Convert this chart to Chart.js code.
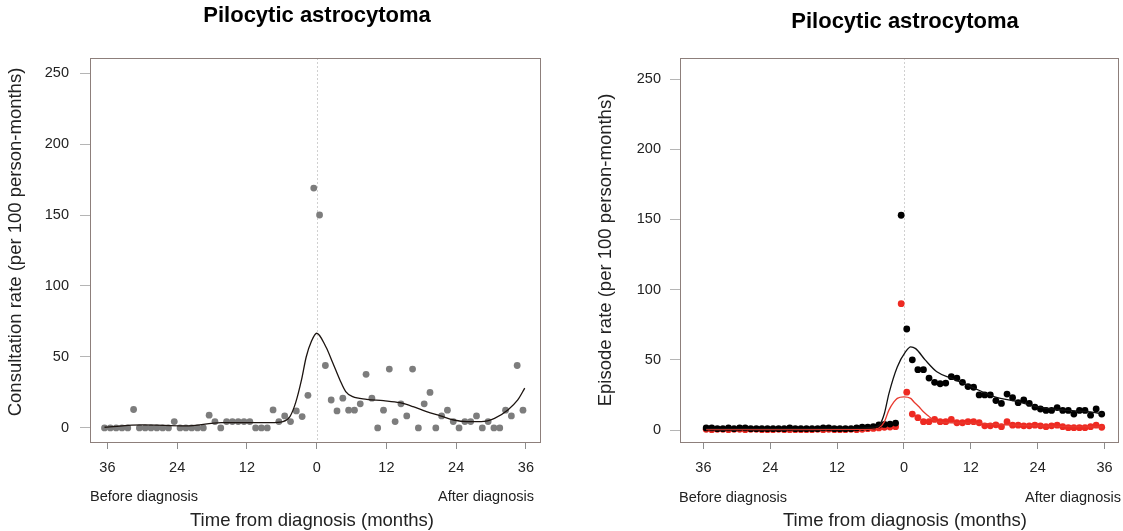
<!DOCTYPE html>
<html>
<head>
<meta charset="utf-8">
<script src="https://cdn.jsdelivr.net/npm/chart.js"></script>
<style>
  html, body { margin: 0; padding: 0; background: #fff; }
  #wrap { position: relative; width: 1123px; height: 531px; overflow: hidden; }
  canvas { position: absolute; top: 0; }
  #left { left: 0; }
  #right { left: 560px; }
</style>
</head>
<body>
<div id="wrap">
  <canvas id="left" width="560" height="531"></canvas>
  <canvas id="right" width="563" height="531"></canvas>
</div>
<script>
  const FONT = '"Liberation Sans", Arial, Helvetica, sans-serif';
  const TITLE = 'Pilocytic astrocytoma';

  // tick labels
  const xTicks = [-36, -24, -12, 0, 12, 24, 36];
  const yTicks = [0, 50, 100, 150, 200, 250];

  // left panel: consultation rate, months from diagnosis
  const monthsLeft = [
    -36.5, -35.5, -34.5, -33.5, -32.5, -31.5, -30.5, -29.5, -28.5, -27.5,
    -26.5, -25.5, -24.5, -23.5, -22.5, -21.5, -20.5, -19.5, -18.5, -17.5,
    -16.5, -15.5, -14.5, -13.5, -12.5, -11.5, -10.5, -9.5, -8.5, -7.5,
    -6.5, -5.5, -4.5, -3.5, -2.5, -1.5, -0.5, 0.5, 1.5, 2.5,
    3.5, 4.5, 5.5, 6.5, 7.5, 8.5, 9.5, 10.5, 11.5, 12.5,
    13.5, 14.5, 15.5, 16.5, 17.5, 18.5, 19.5, 20.5, 21.5, 22.5,
    23.5, 24.5, 25.5, 26.5, 27.5, 28.5, 29.5, 30.5, 31.5, 32.5,
    33.5, 34.5, 35.5
  ];
  const consultRate = [
    0, 0, 0, 0, 0, 13, 0, 0, 0, 0,
    0, 0, 4.5, 0, 0, 0, 0, 0, 9, 4.5,
    0, 4.5, 4.5, 4.5, 4.5, 4.5, 0, 0, 0, 12.7,
    4.5, 8.5, 4.5, 12, 8, 23, 169, 150, 44, 19.7,
    12, 21, 12.5, 12.5, 17, 37.8, 21, 0, 12.5, 41.5,
    4.5, 17, 8.5, 41.5, 0, 17, 25, 0, 8.5, 12.5,
    4.5, 0, 4.5, 4.5, 8.5, 0, 4.5, 0, 0, 12.5,
    8.5, 44, 12.5
  ];
  const consultFitX = [-36.5, -30, -22.6, -16.4, -8, -5.8, -4.6, -3.6, -2.6, -1.8, -0.9, 0, 1.6, 2.8, 4, 5, 6.2, 8.6, 11.5, 14.3, 16.6, 18.9, 21.3, 23.6, 25.9, 28.3, 30.6, 32.9, 34.6, 35.8];
  const consultFitY = [0.5, 2.1, 1.4, 3.7, 3.7, 4.5, 8, 18, 34, 50, 61, 66.7, 57, 45.6, 33.8, 25.6, 22, 20.2, 19.2, 17.8, 15, 11.5, 8.5, 5.6, 4.5, 4.5, 6.8, 12.7, 19.7, 28];

  // right panel: episode rate (black = all, red = subset)
  const monthsRight = [
    -35.5, -34.5, -33.5, -32.5, -31.5, -30.5, -29.5, -28.5, -27.5, -26.5,
    -25.5, -24.5, -23.5, -22.5, -21.5, -20.5, -19.5, -18.5, -17.5, -16.5,
    -15.5, -14.5, -13.5, -12.5, -11.5, -10.5, -9.5, -8.5, -7.5, -6.5,
    -5.5, -4.5, -3.5, -2.5, -1.5, -0.5, 0.5, 1.5, 2.5, 3.5,
    4.5, 5.5, 6.5, 7.5, 8.5, 9.5, 10.5, 11.5, 12.5, 13.5,
    14.5, 15.5, 16.5, 17.5, 18.5, 19.5, 20.5, 21.5, 22.5, 23.5,
    24.5, 25.5, 26.5, 27.5, 28.5, 29.5, 30.5, 31.5, 32.5, 33.5,
    34.5, 35.5
  ];
  const episodeBlack = [
    1.5, 1.5, 1, 1, 1.5, 1, 1.5, 1.5, 1, 1,
    1, 1, 1, 1, 1, 1.5, 1, 1, 1, 1,
    1, 1.5, 1.5, 1, 1, 1, 1, 1.5, 2, 2,
    2.5, 3.6, 4, 4.3, 5, 153, 72, 50, 43, 43,
    37, 34, 33, 33.5, 38, 37, 34, 31, 30.5, 25,
    25, 25, 21, 19, 25.6, 23, 19.5, 21.4, 19, 16.4,
    15, 14, 14, 16, 14, 14, 11.4, 14, 14, 10.6,
    15, 11.4
  ];
  const episodeRed = [
    0.5, 0.3, 0.5, 0.5, 0.3, 0.5, 0.5, 0.3, 0.5, 0.5,
    0.3, 0.3, 0.3, 0.5, 0.3, 0.3, 0.3, 0.3, 0.3, 0.3,
    0.5, 0.3, 0.5, 0.3, 0.3, 0.3, 0.5, 0.3, 0.5, 1,
    1.2, 1.5, 2, 2.2, 2.4, 90, 27, 11.4, 8.8, 6,
    6, 7.6, 6, 6, 7.6, 5.2, 5.2, 6, 6, 5.2,
    3, 3, 3.7, 2.4, 6, 3.5, 3.5, 3, 3, 3.5,
    3, 2.4, 3, 3.5, 2.4, 1.7, 1.7, 1.7, 1.7, 2.4,
    3.5, 2
  ];
  const blackFitX = [-35.5, -20, -8, -5.5, -4.4, -3.5, -2.7, -1.2, 0.3, 1.2, 2.1, 3.8, 5.9, 8.6, 12.1, 16.3, 20.4, 23.9, 28.7, 33.4, 35.8];
  const blackFitY = [1, 1, 1.2, 2, 3.6, 12, 26, 45, 55.8, 59.3, 58, 50, 41.5, 36.8, 30.8, 23.7, 20.2, 16.6, 14.2, 13, 11.4];
  const redFitX = [-35.5, -20, -6, -4.5, -3.5, -2.7, -1.8, -1.2, 0, 1.2, 1.8, 2.7, 3.5, 4.4, 5.3, 7, 12, 18, 24, 30, 35.8];
  const redFitY = [0.3, 0.3, 0.5, 1.5, 6, 14.2, 20, 22.6, 23.7, 22.6, 20, 16.6, 13, 10, 7, 5.5, 5, 3.8, 3, 2.4, 2.2];

  function pairs(xs, ys) {
    return xs.map((x, i) => ({ x, y: ys[i] }));
  }

  function fitLine(xs, ys, color) {
    return {
      data: pairs(xs, ys),
      showLine: true,
      borderColor: color,
      borderWidth: 1.3,
      pointRadius: 0,
      cubicInterpolationMode: 'monotone',
    };
  }

  function dots(xs, ys, color) {
    return {
      data: pairs(xs, ys),
      pointRadius: 3.4,
      pointBackgroundColor: color,
      pointBorderWidth: 0,
      showLine: false,
    };
  }

  // frame, zero line and all the free text of a panel
  function panelDecor(cfg) {
    return {
      id: 'panelDecor',
      beforeDatasetsDraw(chart) {
        const { ctx, chartArea: a } = chart;
        const x0 = chart.scales.x.getPixelForValue(0);
        ctx.save();
        ctx.strokeStyle = '#d0d0d0';
        ctx.lineWidth = 1;
        ctx.setLineDash([2, 2]);
        ctx.beginPath();
        ctx.moveTo(Math.round(x0) + 0.5, a.top);
        ctx.lineTo(Math.round(x0) + 0.5, a.bottom);
        ctx.stroke();
        ctx.restore();
      },
      afterDraw(chart) {
        const { ctx, chartArea: a } = chart;
        ctx.save();
        ctx.strokeStyle = '#8d7f7b';
        ctx.lineWidth = 1;
        ctx.strokeRect(Math.round(a.left) + 0.5, Math.round(a.top) + 0.5,
          Math.round(a.right - a.left) - 1, Math.round(a.bottom - a.top));

        ctx.fillStyle = '#000';
        ctx.textAlign = 'center';
        ctx.textBaseline = 'middle';
        ctx.font = 'bold 22px ' + FONT;
        ctx.fillText(TITLE, cfg.titleX, cfg.titleY);

        ctx.fillStyle = '#222';
        ctx.font = '14.5px ' + FONT;
        ctx.fillText('Before diagnosis', cfg.beforeX, cfg.noteY);
        ctx.fillText('After diagnosis', cfg.afterX, cfg.noteY);

        ctx.font = '18.5px ' + FONT;
        ctx.fillText('Time from diagnosis (months)', cfg.titleX - cfg.xTitleShift, 521);

        ctx.translate(cfg.yLabelX, cfg.yLabelY);
        ctx.rotate(-Math.PI / 2);
        ctx.font = '18.5px ' + FONT;
        ctx.fillText(cfg.yLabel, 0, 0);
        ctx.restore();
      },
    };
  }

  function buildOptions(p) {
    const tickFont = { family: FONT, size: 14.5 };
    return {
      responsive: false,
      devicePixelRatio: 1,
      animation: false,
      events: [],
      layout: { padding: { left: 0, top: 58, right: p.padRight, bottom: 0 } },
      plugins: { legend: { display: false }, tooltip: { enabled: false } },
      scales: {
        x: {
          type: 'linear',
          min: p.xMin,
          max: p.xMax,
          afterBuildTicks: (scale) => { scale.ticks = xTicks.map((v) => ({ value: v })); },
          afterFit: (scale) => { scale.height = 89; },
          border: { display: false },
          grid: { drawOnChartArea: false, drawTicks: true, tickLength: 7, color: '#8d8d8d' },
          ticks: {
            padding: 10,
            color: '#222',
            font: tickFont,
            maxRotation: 0,
            autoSkip: false,
            callback: (v) => String(Math.abs(v)),
          },
        },
        y: {
          type: 'linear',
          min: p.yMin,
          max: p.yMax,
          afterBuildTicks: (scale) => { scale.ticks = yTicks.map((v) => ({ value: v })); },
          afterFit: (scale) => { scale.width = p.yWidth; },
          border: { display: false },
          grid: { drawOnChartArea: false, drawTicks: true, tickLength: 10, color: '#b5b5b5' },
          ticks: { padding: p.yPad, color: '#222', font: tickFont, autoSkip: false },
        },
      },
    };
  }

  new Chart(document.getElementById('left'), {
    type: 'scatter',
    data: {
      datasets: [
        fitLine(consultFitX, consultFitY, '#1c1410'),
        dots(monthsLeft, consultRate, '#7d7d7d'),
      ],
    },
    options: buildOptions({ padRight: 19, yWidth: 90, yPad: 11, xMin: -39, xMax: 38.6, yMin: -9.9, yMax: 260.6 }),
    plugins: [panelDecor({
      titleX: 317, titleY: 16, xTitleShift: 5,
      beforeX: 144, afterX: 486, noteY: 497,
      yLabel: 'Consultation rate (per 100 person-months)', yLabelX: 16, yLabelY: 242,
    })],
  });

  new Chart(document.getElementById('right'), {
    type: 'scatter',
    data: {
      datasets: [
        fitLine(blackFitX, blackFitY, '#111111'),
        fitLine(redFitX, redFitY, '#e8392e'),
        dots(monthsRight, episodeBlack, '#000000'),
        dots(monthsRight, episodeRed, '#ee2a22'),
      ],
    },
    options: buildOptions({ padRight: 0, yWidth: 120, yPad: 9, xMin: -40.2, xMax: 38.6, yMin: -8.5, yMax: 265 }),
    plugins: [panelDecor({
      titleX: 345, titleY: 22, xTitleShift: 0,
      beforeX: 173, afterX: 513, noteY: 498,
      yLabel: 'Episode rate (per 100 person-months)', yLabelX: 46, yLabelY: 250,
    })],
  });
</script>
</body>
</html>
